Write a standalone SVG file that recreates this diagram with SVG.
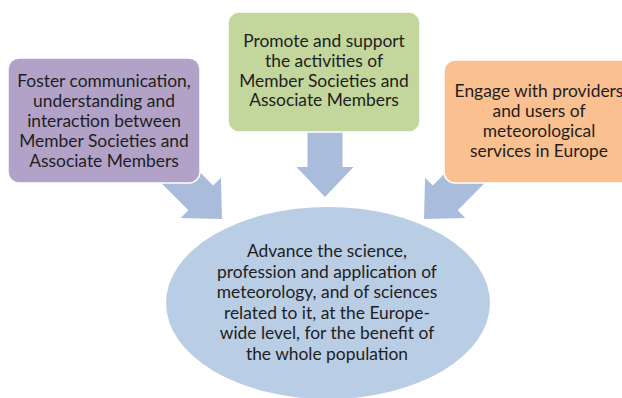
<svg xmlns="http://www.w3.org/2000/svg" width="622" height="398" viewBox="0 0 622 398">
  <defs>
    <style>
      .box { stroke: #ffffff; stroke-width: 1.5; }
      .arrow { fill: #a9bcdc; }
      .label { font-family: Lato, "Open Sans", "Liberation Sans", sans-serif; font-size: 17.4px; fill: #1e1e1e; text-anchor: middle; }
    </style>
    <!-- block arrow pointing along +y, tip at the origin -->
    <polygon id="blockArrow" points="0,0 28.5,-30 17.5,-30 17.5,-85 -17.5,-85 -17.5,-30 -28.5,-30"/>
  </defs>
  <rect width="622" height="398" fill="#ffffff"/>

  <g id="connectors">
    <use href="#blockArrow" class="arrow" transform="translate(222 219) rotate(-45)"/>
    <polygon class="arrow" points="325,197 353.5,167 342.5,167 342.5,130 307.5,130 307.5,167 296.5,167"/>
    <use href="#blockArrow" class="arrow" transform="translate(424 219) rotate(45)"/>
  </g>

  <g id="goal">
    <ellipse cx="328" cy="303" rx="162" ry="96" fill="#b9cde5"/>
    <text class="label" x="327" y="257">Advance the science,</text>
    <text class="label" x="327" y="277.5">profession and application of</text>
    <text class="label" x="327" y="298">meteorology, and of sciences</text>
    <text class="label" x="327" y="318.5">related to it, at the Europe-</text>
    <text class="label" x="327" y="339">wide level, for the benefit of</text>
    <text class="label" x="327" y="359.5">the whole population</text>
  </g>

  <g id="foster">
    <rect class="box" x="8" y="58" width="192" height="125" rx="11" fill="#b3a2c7"/>
    <text class="label" x="104" y="87">Foster communication,</text>
    <text class="label" x="104" y="107">understanding and</text>
    <text class="label" x="104" y="127">interaction between</text>
    <text class="label" x="104" y="147">Member Societies and</text>
    <text class="label" x="104" y="167">Associate Members</text>
  </g>

  <g id="promote">
    <rect class="box" x="228" y="12" width="192" height="120" rx="11" fill="#c3d69b"/>
    <text class="label" x="324" y="47">Promote and support</text>
    <text class="label" x="324" y="67">the activities of</text>
    <text class="label" x="324" y="86.5">Member Societies and</text>
    <text class="label" x="324" y="106">Associate Members</text>
  </g>

  <g id="engage">
    <rect class="box" x="444" y="60" width="192" height="123" rx="11" fill="#fac090"/>
    <text class="label" x="539" y="97">Engage with providers</text>
    <text class="label" x="539" y="117">and users of</text>
    <text class="label" x="539" y="137">meteorological</text>
    <text class="label" x="539" y="157">services in Europe</text>
  </g>
</svg>
